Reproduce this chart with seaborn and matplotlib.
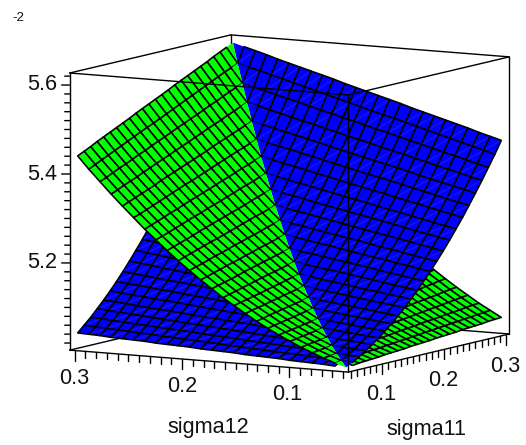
import numpy as np
import seaborn as sns
import matplotlib
matplotlib.use("Agg")
import matplotlib.pyplot as plt
from mpl_toolkits.mplot3d.art3d import Poly3DCollection

# grid values, in units of 10^-2 on the z axis
sigma11 = [0.0500, 0.0604, 0.0708, 0.0813, 0.0917, 0.1021, 0.1125, 0.1229, 0.1333,
           0.1438, 0.1542, 0.1646, 0.1750, 0.1854, 0.1958, 0.2063, 0.2167, 0.2271,
           0.2375, 0.2479, 0.2583, 0.2688, 0.2792, 0.2896, 0.3000]
sigma12 = list(sigma11)

# rows follow sigma12, columns follow sigma11
green_z = [
    [5.012, 5.013, 5.015, 5.016, 5.017, 5.018, 5.020, 5.021, 5.022, 5.023, 5.025, 5.026, 5.027, 5.028, 5.030, 5.031, 5.032, 5.033, 5.035, 5.036, 5.037, 5.038, 5.040, 5.041, 5.042],
    [5.020, 5.022, 5.023, 5.025, 5.026, 5.028, 5.029, 5.030, 5.032, 5.033, 5.035, 5.036, 5.038, 5.039, 5.041, 5.042, 5.044, 5.045, 5.047, 5.048, 5.050, 5.051, 5.053, 5.054, 5.056],
    [5.029, 5.031, 5.032, 5.034, 5.036, 5.038, 5.039, 5.041, 5.043, 5.044, 5.046, 5.048, 5.050, 5.051, 5.053, 5.055, 5.057, 5.058, 5.060, 5.062, 5.063, 5.065, 5.067, 5.069, 5.070],
    [5.039, 5.041, 5.043, 5.045, 5.047, 5.048, 5.050, 5.052, 5.054, 5.056, 5.058, 5.060, 5.062, 5.064, 5.066, 5.068, 5.070, 5.072, 5.074, 5.076, 5.078, 5.080, 5.082, 5.084, 5.086],
    [5.049, 5.052, 5.054, 5.056, 5.058, 5.060, 5.063, 5.065, 5.067, 5.069, 5.071, 5.074, 5.076, 5.078, 5.080, 5.082, 5.084, 5.087, 5.089, 5.091, 5.093, 5.095, 5.098, 5.100, 5.102],
    [5.061, 5.063, 5.066, 5.068, 5.071, 5.073, 5.075, 5.078, 5.080, 5.083, 5.085, 5.088, 5.090, 5.092, 5.095, 5.097, 5.100, 5.102, 5.105, 5.107, 5.109, 5.112, 5.114, 5.117, 5.119],
    [5.073, 5.076, 5.078, 5.081, 5.084, 5.086, 5.089, 5.092, 5.094, 5.097, 5.100, 5.102, 5.105, 5.108, 5.110, 5.113, 5.116, 5.118, 5.121, 5.124, 5.126, 5.129, 5.132, 5.134, 5.137],
    [5.086, 5.089, 5.092, 5.095, 5.098, 5.101, 5.104, 5.107, 5.110, 5.113, 5.115, 5.118, 5.121, 5.124, 5.127, 5.130, 5.133, 5.136, 5.139, 5.142, 5.144, 5.147, 5.150, 5.153, 5.156],
    [5.100, 5.103, 5.107, 5.110, 5.113, 5.116, 5.119, 5.122, 5.126, 5.129, 5.132, 5.135, 5.138, 5.141, 5.144, 5.148, 5.151, 5.154, 5.157, 5.160, 5.163, 5.166, 5.170, 5.173, 5.176],
    [5.115, 5.119, 5.122, 5.125, 5.129, 5.132, 5.136, 5.139, 5.142, 5.146, 5.149, 5.152, 5.156, 5.159, 5.163, 5.166, 5.169, 5.173, 5.176, 5.180, 5.183, 5.186, 5.190, 5.193, 5.197],
    [5.131, 5.135, 5.138, 5.142, 5.145, 5.149, 5.153, 5.156, 5.160, 5.164, 5.167, 5.171, 5.174, 5.178, 5.182, 5.185, 5.189, 5.193, 5.196, 5.200, 5.203, 5.207, 5.211, 5.214, 5.218],
    [5.147, 5.151, 5.155, 5.159, 5.163, 5.167, 5.171, 5.175, 5.178, 5.182, 5.186, 5.190, 5.194, 5.198, 5.202, 5.206, 5.209, 5.213, 5.217, 5.221, 5.225, 5.229, 5.233, 5.237, 5.241],
    [5.165, 5.169, 5.173, 5.177, 5.181, 5.186, 5.190, 5.194, 5.198, 5.202, 5.206, 5.210, 5.214, 5.219, 5.223, 5.227, 5.231, 5.235, 5.239, 5.243, 5.247, 5.252, 5.256, 5.260, 5.264],
    [5.183, 5.187, 5.192, 5.196, 5.201, 5.205, 5.209, 5.214, 5.218, 5.223, 5.227, 5.231, 5.236, 5.240, 5.244, 5.249, 5.253, 5.258, 5.262, 5.266, 5.271, 5.275, 5.279, 5.284, 5.288],
    [5.202, 5.207, 5.211, 5.216, 5.221, 5.225, 5.230, 5.235, 5.239, 5.244, 5.248, 5.253, 5.258, 5.262, 5.267, 5.271, 5.276, 5.281, 5.285, 5.290, 5.295, 5.299, 5.304, 5.308, 5.313],
    [5.222, 5.227, 5.232, 5.237, 5.242, 5.247, 5.251, 5.256, 5.261, 5.266, 5.271, 5.276, 5.281, 5.285, 5.290, 5.295, 5.300, 5.305, 5.310, 5.315, 5.320, 5.324, 5.329, 5.334, 5.339],
    [5.243, 5.248, 5.253, 5.258, 5.263, 5.269, 5.274, 5.279, 5.284, 5.289, 5.294, 5.299, 5.304, 5.310, 5.315, 5.320, 5.325, 5.330, 5.335, 5.340, 5.345, 5.351, 5.356, 5.361, 5.366],
    [5.265, 5.270, 5.275, 5.281, 5.286, 5.292, 5.297, 5.302, 5.308, 5.313, 5.318, 5.324, 5.329, 5.335, 5.340, 5.345, 5.351, 5.356, 5.361, 5.367, 5.372, 5.378, 5.383, 5.388, 5.394],
    [5.287, 5.293, 5.298, 5.304, 5.310, 5.315, 5.321, 5.327, 5.332, 5.338, 5.343, 5.349, 5.355, 5.360, 5.366, 5.372, 5.377, 5.383, 5.388, 5.394, 5.400, 5.405, 5.411, 5.417, 5.422],
    [5.311, 5.316, 5.322, 5.328, 5.334, 5.340, 5.346, 5.352, 5.358, 5.363, 5.369, 5.375, 5.381, 5.387, 5.393, 5.399, 5.405, 5.410, 5.416, 5.422, 5.428, 5.434, 5.440, 5.446, 5.452],
    [5.335, 5.341, 5.347, 5.353, 5.359, 5.365, 5.372, 5.378, 5.384, 5.390, 5.396, 5.402, 5.408, 5.414, 5.421, 5.427, 5.433, 5.439, 5.445, 5.451, 5.457, 5.463, 5.470, 5.476, 5.482],
    [5.360, 5.366, 5.373, 5.379, 5.385, 5.392, 5.398, 5.405, 5.411, 5.417, 5.424, 5.430, 5.436, 5.443, 5.449, 5.456, 5.462, 5.468, 5.475, 5.481, 5.488, 5.494, 5.500, 5.507, 5.513],
    [5.386, 5.392, 5.399, 5.406, 5.412, 5.419, 5.426, 5.432, 5.439, 5.446, 5.452, 5.459, 5.466, 5.472, 5.479, 5.485, 5.492, 5.499, 5.505, 5.512, 5.519, 5.525, 5.532, 5.539, 5.545],
    [5.412, 5.419, 5.426, 5.433, 5.440, 5.447, 5.454, 5.461, 5.468, 5.475, 5.481, 5.488, 5.495, 5.502, 5.509, 5.516, 5.523, 5.530, 5.537, 5.544, 5.551, 5.558, 5.564, 5.571, 5.578],
    [5.440, 5.447, 5.454, 5.462, 5.469, 5.476, 5.483, 5.490, 5.497, 5.505, 5.512, 5.519, 5.526, 5.533, 5.540, 5.548, 5.555, 5.562, 5.569, 5.576, 5.583, 5.591, 5.598, 5.605, 5.612],
]

sigma_major = [0.1, 0.2, 0.3]
sigma_minor = [0.05, 0.06, 0.07, 0.08, 0.09, 0.11, 0.12, 0.13, 0.14, 0.15, 0.16, 0.17,
               0.18, 0.19, 0.21, 0.22, 0.23, 0.24, 0.25, 0.26, 0.27, 0.28, 0.29]
z_major = [5.2, 5.4, 5.6]
z_minor = [5.02, 5.04, 5.06, 5.08, 5.10, 5.12, 5.14, 5.16, 5.18, 5.22, 5.24, 5.26, 5.28,
           5.30, 5.32, 5.34, 5.36, 5.38, 5.42, 5.44, 5.46, 5.48, 5.50, 5.52, 5.54, 5.56,
           5.58, 5.62]

W, H = 526, 445
xlo, xhi = 0.0453, 0.3047
ylo, yhi = 0.0453, 0.3047
zlo, zhi = 5.004, 5.627

sns.set_theme(style="white")
plt.rcParams["font.family"] = ["Liberation Sans", "DejaVu Sans"]
green, blue = sns.color_palette(["#00ff00", "#0000ff"])

fig = plt.figure(figsize=(W / 100, H / 100), dpi=100)
ax = fig.add_axes([12.2 / W, -35.8 / H, 540 / W, 540 / H], projection="3d",
                  proj_type="ortho", computed_zorder=False)
ax.view_init(elev=7.85, azim=-150)
ax.set_box_aspect((322, 321.4, 279.6), zoom=0.9605)
ax.set_axis_off()


def cell_polys(z, color, seam):
    """one quad per cell, the cells on the crossing diagonal are cut in half"""
    polys, faces, edges = [], [], []
    n = len(sigma11)
    for j in range(n - 1):
        for i in range(n - 1):
            a = (sigma11[i], sigma12[j], z[j][i])
            b = (sigma11[i + 1], sigma12[j], z[j][i + 1])
            c = (sigma11[i + 1], sigma12[j + 1], z[j + 1][i + 1])
            d = (sigma11[i], sigma12[j + 1], z[j + 1][i])
            if i == j:
                # green shows above the diagonal, blue below it
                polys.append([a, c, d] if color == green else [a, b, c])
                edges.append((0, 0, 0, 0))
                faces.append(color)
                continue
            polys.append([a, b, c, d])
            edges.append((0, 0, 0, 1))
            faces.append(color)
            # pale seam across each cell, the cells were filled as two triangles
            polys.append([b, d])
            edges.append((1, 1, 1, seam))
            faces.append((0, 0, 0, 0))
    return polys, faces, edges


green_grid = np.array(green_z)
blue_grid = green_grid.T

p1, f1, e1 = cell_polys(green_grid, green, 0.04)
p2, f2, e2 = cell_polys(blue_grid, blue, 0.07)
surf = Poly3DCollection(p1 + p2, facecolors=f1 + f2, edgecolors=e1 + e2, linewidths=1.15, zorder=2)
ax.add_collection3d(surf, autolim=False)

box_style = dict(color="black", lw=1.0)
# back of the box goes behind the surfaces
for p, q in [((xhi, yhi, zhi), (xlo, yhi, zhi)), ((xhi, yhi, zhi), (xhi, ylo, zhi)),
             ((xhi, yhi, zhi), (xhi, yhi, zlo)), ((xhi, yhi, zlo), (xlo, yhi, zlo)),
             ((xhi, yhi, zlo), (xhi, ylo, zlo))]:
    ax.plot(*zip(p, q), zorder=1, **box_style)
# front of the box
for p, q in [((xlo, ylo, zhi), (xlo, yhi, zhi)), ((xlo, ylo, zhi), (xhi, ylo, zhi)),
             ((xlo, ylo, zhi), (xlo, ylo, zlo)), ((xlo, yhi, zhi), (xlo, yhi, zlo)),
             ((xhi, ylo, zhi), (xhi, ylo, zlo)), ((xlo, ylo, zlo), (xlo, yhi, zlo)),
             ((xlo, ylo, zlo), (xhi, ylo, zlo))]:
    ax.plot(*zip(p, q), zorder=3, **box_style)

# ticks hang below the bottom edges, z ticks point left on screen
for vals, length in [(sigma_major, 0.0225), (sigma_minor, 0.0140)]:
    for s in vals:
        ax.plot([xlo, xlo], [s, s], [zlo, zlo - length], zorder=3, **box_style)
        ax.plot([s, s], [ylo, ylo], [zlo, zlo - length], zorder=3, **box_style)
for vals, px in [(z_major, 8), (z_minor, 5)]:
    for v in vals:
        dy = px / 371 * (yhi - ylo)
        dx = -0.579 * dy
        ax.plot([xlo, xlo + dx], [yhi, yhi + dy], [v, v], zorder=3, **box_style)

ax.set_xlim(xlo, xhi, view_margin=0)
ax.set_ylim(ylo, yhi, view_margin=0)
ax.set_zlim(zlo, zhi, view_margin=0)


def label(x, y, s, size=15.6):
    fig.text(x / W, 1 - y / H, s, ha="center", va="center", fontsize=size, color="#111111")


label(18, 18, "-2", size=9.5)
label(42, 85, "5.6")
label(42, 174, "5.4")
label(42, 263, "5.2")
label(74, 379, "0.3")
label(182, 387, "0.2")
label(287, 395, "0.1")
label(381, 395, "0.1")
label(443, 381, "0.2")
label(505, 366, "0.3")
label(208, 428, "sigma12")
label(426, 429, "sigma11")

fig.savefig("out.png", dpi=100)
